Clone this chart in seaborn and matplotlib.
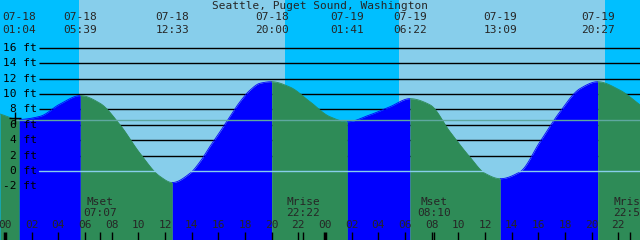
import matplotlib
matplotlib.use("Agg")
import matplotlib.pyplot as plt
import seaborn as sns
import pandas as pd
import numpy as np

# ---------------- data ----------------
title = "Seattle, Puget Sound, Washington"

# tide curve (hours since 07-18 00:00, feet)
tide_hours = [-0.375, 1.07, 2.625, 4.125, 5.65, 7.125, 8.625, 10.125, 11.625, 12.55,
              13.875, 14.625, 15.375, 16.125, 16.875, 17.625, 18.375, 19.125, 20.0,
              21.375, 22.875, 24.375, 25.68, 27.375, 28.875, 30.37, 31.875, 33.375,
              34.875, 36.0, 37.15, 38.625, 40.125, 41.625, 43.125, 44.45, 46.125, 47.625]
tide_ft = [7.4, 6.7, 7.1, 8.7, 9.8, 8.8, 6.0, 2.3, -0.7, -1.5,
           -0.3, 1.2, 3.2, 5.1, 7.1, 9.0, 10.5, 11.4, 11.6,
           10.9, 9.0, 7.05, 6.4, 7.3, 8.35, 9.4, 8.6, 5.1,
           1.8, -0.3, -1.0, -0.1, 3.8, 7.7, 10.7, 11.6, 10.5, 8.6]

# high / low tide events
extreme_hours = [1.07, 5.65, 12.55, 20.0, 25.68, 30.37, 37.15, 44.45]
extreme_dates = ["07-18", "07-18", "07-18", "07-18", "07-19", "07-19", "07-19", "07-19"]
extreme_times = ["01:04", "05:39", "12:33", "20:00", "01:41", "06:22", "13:09", "20:27"]

# sunrise / sunset (hours) -> sky colour bands
sun_edges = [-0.375, 5.55, 21.0, 29.55, 45.0, 47.625]
sun_is_night = [True, False, True, False, True]

# moon events
moon_hours = [7.12, 22.37, 32.17, 46.87]
moon_names = ["Mset", "Mrise", "Mset", "Mrise"]
moon_times = ["07:07", "22:22", "08:10", "22:52"]

# axis ticks
y_ticks = [16, 14, 12, 10, 8, 6, 4, 2, 0, -2]
hour_ticks = list(range(0, 24, 2))
mean_level = 6.6
now_hour, now_ft = 0.75, 6.84

# ---------------- style ----------------
sns.set_theme(style="white")
plt.rcParams["font.family"] = ["DejaVu Sans Mono", "DejaVu Sans"]

NIGHT = "#00BFFF"
DAY = "#87CEEB"
RISE = "#0000FF"
FALL = "#2E8B57"

X0, X1 = -0.375, 47.625
Y0, Y1 = -8.96, 22.21

fig = plt.figure(figsize=(6.4, 2.4), dpi=100)
ax = fig.add_axes([0, 0, 1, 1])
ax.set_xlim(X0, X1)
ax.set_ylim(Y0, Y1)
ax.axis("off")


def px2h(px):
    return X0 + px / 640 * (X1 - X0)


def py2ft(py):
    return Y1 - py / 240 * (Y1 - Y0)


def smooth_path(x, y, n=16):
    """Monotone cubic (PCHIP-style) drawing path through the read points.
    Returns the path and, for each path sample, the index of its source interval."""
    x = np.asarray(x, float)
    y = np.asarray(y, float)
    h = np.diff(x)
    d = np.diff(y) / h
    m = np.zeros_like(y)
    for k in range(1, len(x) - 1):
        if d[k - 1] * d[k] > 0:
            w1 = 2 * h[k] + h[k - 1]
            w2 = h[k] + 2 * h[k - 1]
            m[k] = (w1 + w2) / (w1 / d[k - 1] + w2 / d[k])
    m[0] = d[0]
    m[-1] = d[-1]
    xs, ys = [], []
    for k in range(len(x) - 1):
        t = np.linspace(0, 1, n)
        h00 = 2 * t**3 - 3 * t**2 + 1
        h10 = t**3 - 2 * t**2 + t
        h01 = -2 * t**3 + 3 * t**2
        h11 = t**3 - t**2
        xs.append(x[k] + t * h[k])
        ys.append(h00 * y[k] + h10 * h[k] * m[k] + h01 * y[k + 1] + h11 * h[k] * m[k + 1])
    return xs, ys


# sky bands
for i, night in enumerate(sun_is_night):
    ax.axvspan(sun_edges[i], sun_edges[i + 1], color=NIGHT if night else DAY, lw=0, zorder=0)

# grid lines
xl = px2h(39)
for v in y_ticks:
    if v > 0:
        ax.plot([xl, X1], [v, v], color="black", lw=1.0, zorder=1, solid_capstyle="butt")

# tide fill, coloured by rising / falling
df = pd.DataFrame({"hour": tide_hours, "ft": tide_ft})
pieces_x, pieces_y = smooth_path(df.hour.values, df.ft.values)
bounds = [X0] + extreme_hours + [X1]
seg = []
pal = {}
for i in range(len(bounds) - 1):
    a, b = bounds[i], bounds[i + 1]
    sx_list, sy_list = [], []
    for px_, py_ in zip(pieces_x, pieces_y):
        if px_[0] >= a - 1e-9 and px_[-1] <= b + 1e-9:
            sx_list.append(px_)
            sy_list.append(py_)
    sx = np.concatenate(sx_list)
    sy = np.concatenate(sy_list)
    rising = sy[-1] > sy[0]
    c = RISE if rising else FALL
    pal[i] = c
    ax.fill_between(sx, sy, Y0, color=c, lw=0, zorder=2)
    seg.append(pd.DataFrame({"hour": sx, "ft": sy, "seg": i}))
segdf = pd.concat(seg, ignore_index=True)
sns.lineplot(data=segdf, x="hour", y="ft", hue="seg", palette=pal, legend=False,
             lw=0.6, ax=ax, zorder=3, sort=False, estimator=None)

# 0 ft line and mean line
ax.plot([xl, X1], [0, 0], color=DAY, lw=1.0, zorder=4)
ax.plot([now_hour, X1], [mean_level, mean_level], color="#5FA8A0", lw=1.0, zorder=4)
ax.plot([now_hour], [now_ft], marker="+", color="black", ms=8, mew=1.0, zorder=5)

# y labels
fs = 8
for v in y_ticks:
    ax.text(px2h(37), v, f"{v} ft", ha="right", va="center", fontsize=fs, color="black", zorder=6)

# title
ax.text(px2h(320), py2ft(6), title, ha="center", va="center", fontsize=fs, zorder=6)

# tide event labels
for h, d, t in zip(extreme_hours, extreme_dates, extreme_times):
    ax.text(h, py2ft(17), d, ha="center", va="center", fontsize=fs, zorder=6)
    ax.text(h, py2ft(30), t, ha="center", va="center", fontsize=fs, zorder=6)

# hour ticks and labels
tick_top = py2ft(232)
for day in range(2):
    for hh in hour_ticks:
        x = day * 24 + hh
        ax.text(x, py2ft(225), f"{hh:02d}", ha="center", va="center", fontsize=fs, zorder=6)
        lw = 2.5 if hh == 0 else 1.0
        ax.plot([x, x], [tick_top, Y0], color="black", lw=lw, zorder=6, solid_capstyle="butt")

# moon events
for h, n, t in zip(moon_hours, moon_names, moon_times):
    ax.text(h, py2ft(202), n, ha="center", va="center", fontsize=fs, zorder=6)
    ax.text(h, py2ft(213), t, ha="center", va="center", fontsize=fs, zorder=6)
    ax.plot([h, h], [tick_top, Y0], color="black", lw=1.0, zorder=6, solid_capstyle="butt")

fig.savefig("out.png", dpi=100)
